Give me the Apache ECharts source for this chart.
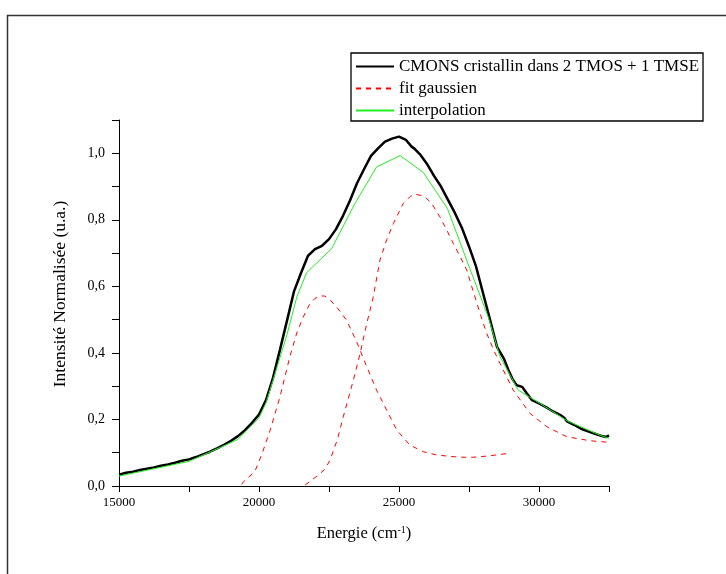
<!DOCTYPE html>
<html>
<head>
<meta charset="utf-8">
<script src="https://cdn.jsdelivr.net/npm/echarts@6/dist/echarts.min.js"></script>
<style>html,body{margin:0;padding:0;background:#fff;}#c{width:726px;height:574px;}</style>
</head>
<body>
<div id="c"></div>
<script>
var seriesNames = ['CMONS cristallin dans 2 TMOS + 1 TMSE', 'fit gaussien', 'interpolation'];
var xTickLabels = [15000, 20000, 25000, 30000];
var yTickLabels = ['0,0', '0,2', '0,4', '0,6', '0,8', '1,0'];

var measured = [
[15000,0.034],[15250,0.040],[15500,0.043],[15750,0.048],[16000,0.052],[16250,0.056],[16500,0.061],[16750,0.065],
[17000,0.070],[17250,0.076],[17500,0.080],[17750,0.087],[18000,0.095],[18250,0.103],[18500,0.113],[18750,0.124],
[19000,0.136],[19250,0.150],[19500,0.168],[19750,0.190],[20000,0.215],[20250,0.258],[20500,0.325],[20750,0.410],
[21000,0.497],[21250,0.585],[21500,0.640],[21750,0.692],[22000,0.712],[22250,0.722],[22500,0.742],[22750,0.772],
[23000,0.812],[23250,0.858],[23500,0.910],[23750,0.952],[24000,0.992],[24250,1.015],[24500,1.035],[24750,1.044],
[25000,1.050],[25250,1.040],[25450,1.020],[25550,1.014],[25750,0.997],[26000,0.968],[26250,0.932],[26500,0.900],[26750,0.860],
[27000,0.820],[27250,0.775],[27500,0.720],[27750,0.660],[28000,0.580],[28250,0.500],[28500,0.418],[28750,0.382],
[28900,0.350],[29050,0.322],[29200,0.303],[29400,0.298],[29550,0.280],[29750,0.258],[30000,0.248],[30250,0.237],[30500,0.224],[30750,0.214],
[30900,0.205],[31000,0.194],[31250,0.184],[31500,0.172],[31750,0.164],[32000,0.157],[32250,0.150],[32400,0.147],[32500,0.152]
];

var gauss1 = [
[19380,0.005],[19450,0.013],[19850,0.043],[20100,0.095],[20400,0.168],[20750,0.268],[21100,0.388],[21350,0.460],
[21580,0.508],[21800,0.545],[22000,0.564],[22200,0.571],[22350,0.571],[22550,0.558],[22775,0.538],[23130,0.498],
[23490,0.433],[23850,0.358],[24200,0.288],[24560,0.228],[24920,0.168],[25390,0.123],[25870,0.103],[26300,0.094],
[26700,0.090],[27100,0.087],[27540,0.086],[27900,0.088],[28250,0.091],[28900,0.098]
];

var gauss2 = [
[21650,0.003],[22120,0.033],[22350,0.050],[22540,0.078],[22800,0.140],[23010,0.208],[23370,0.318],[23610,0.398],
[23850,0.489],[24080,0.568],[24320,0.679],[24560,0.740],[24800,0.789],[25150,0.849],[25400,0.870],[25570,0.877],
[25800,0.873],[25990,0.864],[26200,0.845],[26460,0.809],[26700,0.770],[26940,0.729],[27180,0.690],[27420,0.649],
[27650,0.585],[27890,0.520],[28130,0.459],[28400,0.405],[28610,0.368],[29080,0.288],[29680,0.218],[30280,0.178],
[30990,0.148],[31820,0.136],[32540,0.131]
];

var interp = [
[15000,0.030],[17500,0.074],[19250,0.140],[20000,0.205],[20250,0.250],[20500,0.318],[21000,0.455],[21350,0.568],
[21700,0.641],[22600,0.714],[23400,0.845],[24200,0.959],[25040,0.993],[25870,0.942],[26730,0.834],[27500,0.660],
[28200,0.505],[28600,0.390],[29260,0.288],[30040,0.248],[31000,0.196],[32200,0.152],[32500,0.143]
];

var FONT = '"Liberation Serif", "Times New Roman", serif';
var chart = echarts.init(document.getElementById('c'));
chart.setOption({
  animation: false,
  backgroundColor: '#fff',
  grid: {left: 119, right: 117, top: 120, bottom: 88, containLabel: false},
  legend: {
    data: seriesNames,
    orient: 'vertical',
    left: 351, top: 53,
    backgroundColor: '#fff',
    borderColor: '#000', borderWidth: 1.3,
    padding: [5, 4, 2, 4],
    itemWidth: 38, itemHeight: 14, itemGap: 5,
    itemStyle: {opacity: 0},
    textStyle: {fontFamily: FONT, fontSize: 17, color: '#000'}
  },
  xAxis: {
    type: 'value', min: 15000, max: 32500, interval: 2500,
    name: 'Energie (cm{sup|-1})', nameLocation: 'middle', nameGap: 39,
    nameTextStyle: {fontFamily: FONT, fontSize: 16.5, color: '#000',
      rich: {sup: {fontFamily: FONT, fontSize: 10, color: '#000', verticalAlign: 'top', padding: [0,0,8,0]}}},
    axisLine: {lineStyle: {color: '#000', width: 1}},
    axisTick: {inside: false, length: 6, lineStyle: {color: '#000'}},
    axisLabel: {fontFamily: FONT, fontSize: 13, color: '#000', margin: 10,
      formatter: function (v) { return xTickLabels.indexOf(v) >= 0 ? String(v) : ''; }},
    splitLine: {show: false}
  },
  yAxis: {
    type: 'value', min: 0, max: 1.1, interval: 0.1,
    axisLine: {show: true, lineStyle: {color: '#000', width: 1}},
    axisTick: {show: true, inside: false, length: 7, lineStyle: {color: '#000'}},
    axisLabel: {fontFamily: FONT, fontSize: 14, color: '#000', margin: 14,
      formatter: function (v) { var k = Math.round(v * 10); return k % 2 === 0 ? (yTickLabels[k / 2] || '') : ''; }},
    splitLine: {show: false}
  },
  graphic: [
    {type: 'rect', shape: {x: 7.5, y: 15.5, width: 740, height: 580}, style: {fill: 'none', stroke: '#333', lineWidth: 1.5}, z: -1},
    {type: 'text', x: 60, y: 294, rotation: Math.PI / 2,
      style: {text: 'Intensité Normalisée (u.a.)', fontFamily: FONT, fontSize: 17.5, fill: '#000', textAlign: 'center', textVerticalAlign: 'middle'}}
  ],
  series: [
    {name: seriesNames[0], type: 'line', data: measured, symbol: 'none', lineStyle: {color: '#000', width: 2.5}, itemStyle: {color: '#000'}, z: 3},
    {name: seriesNames[1], type: 'line', data: gauss1, symbol: 'none', lineStyle: {color: '#ff0000', width: 1, type: [5, 5]}, itemStyle: {color: '#ff0000'}, z: 2},
    {name: seriesNames[1], type: 'line', data: gauss2, symbol: 'none', lineStyle: {color: '#ff0000', width: 1, type: [5, 5]}, itemStyle: {color: '#ff0000'}, z: 2},
    {name: seriesNames[2], type: 'line', data: interp, symbol: 'none', lineStyle: {color: '#22ee22', width: 1}, itemStyle: {color: '#22ee22'}, z: 4}
  ]
});
</script>
</body>
</html>
